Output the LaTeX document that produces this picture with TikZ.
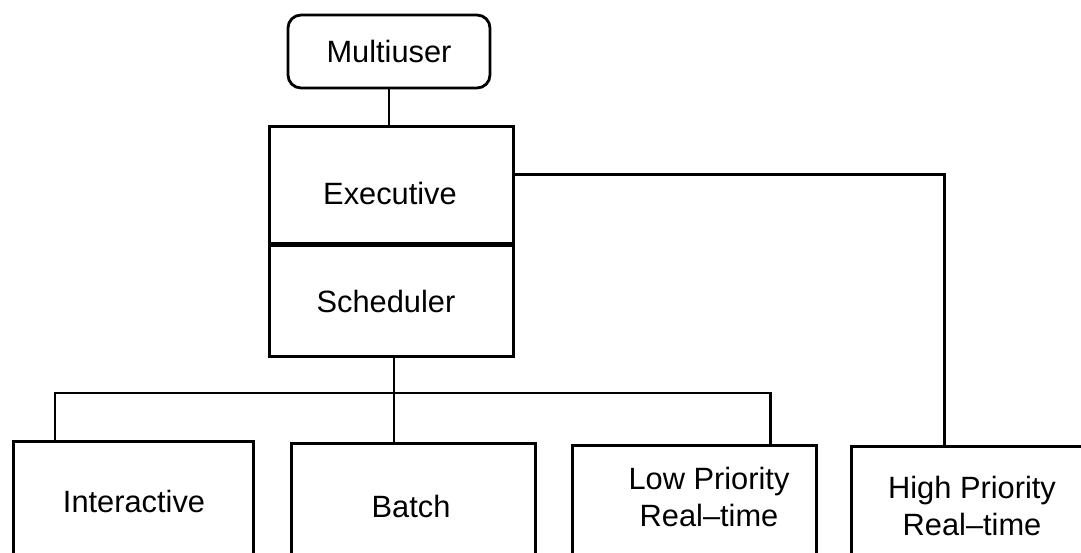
\documentclass[tikz,border=0pt]{standalone}
\usepackage{fontspec}
\setmainfont{Liberation Sans}
\begin{document}
\begin{tikzpicture}[x=1pt,y=-1pt,
  box/.style={draw, line width=2.8pt, inner sep=0pt, anchor=north west},
  conn/.style={draw, line width=2.8pt},
  lbl/.style={font=\fontsize{30.8}{37}\selectfont, inner sep=0pt}]
\useasboundingbox (0,0) rectangle (1081,552);
\clip (0,0) rectangle (1081,552);
% top
\node[box, lbl, rounded corners=13pt, anchor=center, minimum width=202pt, minimum height=73pt] (mu) at (389,51.5) {Multiuser};
\node[box, minimum width=244pt, minimum height=117pt] (exec) at (268,125) {};
\node[box, minimum width=244pt, minimum height=113pt] (sched) at (268,242) {};
\draw[line width=5pt] (exec.south west) -- (exec.south east);
% bottom boxes (run off the page)
\node[box, minimum width=240pt, minimum height=180pt] (inter) at (12,440) {};
\node[box, minimum width=244pt, minimum height=180pt] (batch) at (290,442) {};
\node[box, minimum width=244pt, minimum height=180pt] (lp) at (571,444) {};
\node[box, minimum width=244pt, minimum height=180pt] (hp) at (850,445) {};
% labels
\node[lbl, anchor=base] (texec) at (390,204) {Executive};
\node[lbl, anchor=base] (tsched) at (386,312) {Scheduler};
\node[lbl, anchor=base] (tinter) at (134,512) {Interactive};
\node[lbl, anchor=base] (tbatch) at (411,517) {Batch};
\node[lbl, align=center] (tlp) at (709,497) {Low Priority\\Real--time};
\node[lbl, align=center] (thp) at (972,506) {High Priority\\Real--time};
% connectors
\coordinate (bar) at (394,393);
\draw[conn] (mu.south) -- (mu.south |- exec.north);
\draw[conn] ([yshift=10.5pt]exec.east) -| ([xshift=-29pt]hp.north);
\draw[conn] (bar |- sched.south) -- (bar |- batch.north);
\draw[conn] ([xshift=43pt]inter.north west) |- (bar) -| ([xshift=-47pt]lp.north east);
\end{tikzpicture}
\end{document}
